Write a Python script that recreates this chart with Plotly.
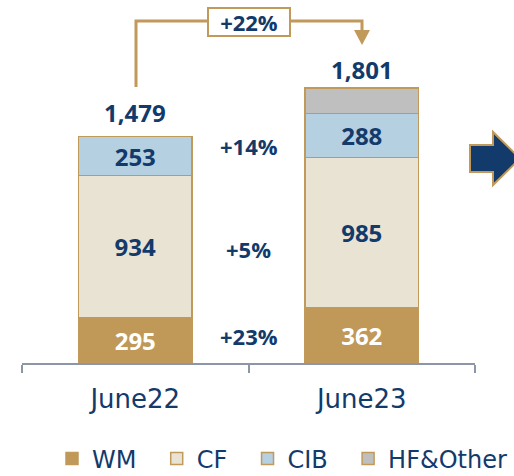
import plotly.graph_objects as go

# ---------------- data ----------------
categories = ["June22", "June23"]
wm = [295, 362]
cf = [934, 985]
cib = [253, 288]
hf_other = [0, 166]
totals = [1479, 1801]
segment_growth = ["+23%", "+5%", "+14%"]   # WM, CF, CIB
total_growth = "+22%"
legend_names = ["WM", "CF", "CIB", "HF&Other"]

# ---------------- style ----------------
W, H = 514, 476
NAVY = "#123a6b"
GOLD = "#c19a5b"
AXIS = "#8c96a8"
FONT = "Open Sans"
LIGHT = "DejaVu Sans"
PAD = "\u00a0\u00a0"


def px(x):
    return x / W


def py(y):
    return 1 - y / H


fig = go.Figure()
series = [
    (wm, "#c09858", "white", True),
    (cf, "#e9e3d3", NAVY, True),
    (cib, "#b4d0e1", NAVY, True),
    (hf_other, "#bfbfbf", NAVY, False),
]
for k, (name, (vals, fill, tcol, show)) in enumerate(zip(legend_names, series)):
    fig.add_trace(go.Bar(
        x=categories, y=vals,
        name=name + (PAD if k < len(legend_names) - 1 else ""),
        marker=dict(color=fill, line=dict(color=GOLD, width=1.5)),
        width=0.5,
        text=[f"{v:,}" if (show and v > 0) else "" for v in vals],
        textposition="inside", insidetextanchor="middle",
        textfont=dict(family=FONT, size=24, color=tcol, weight="bold"),
        constraintext="none",
        hoverinfo="skip",
    ))

annotations = []
# totals above bars
total_shift = [6, 0]
for i, c in enumerate(categories):
    annotations.append(dict(
        x=c, y=totals[i], xref="x", yref="y", yanchor="bottom", yshift=total_shift[i],
        text=f"{totals[i]:,}", showarrow=False,
        font=dict(family=FONT, size=24, color=NAVY, weight="bold")))

# segment growth labels between bars
bases = [[0, 0], wm, [a + b for a, b in zip(wm, cf)]]
segs = [wm, cf, cib]
g_shift = [2, -9, 0]
for k, (lab, seg, base) in enumerate(zip(segment_growth, segs, bases)):
    mids = [b + s / 2 for b, s in zip(base, seg)]
    annotations.append(dict(
        x=0.5, y=sum(mids) / len(mids), xref="x", yref="y", yshift=g_shift[k],
        text=lab, showarrow=False,
        font=dict(family=FONT, size=22, color=NAVY, weight="bold")))

# total growth box
annotations.append(dict(
    x=0.5, y=py(22), xref="x", yref="paper", xanchor="center", yanchor="middle",
    text=total_growth, showarrow=False,
    font=dict(family=FONT, size=22, color=NAVY, weight="bold"),
    bgcolor="white", bordercolor=GOLD, borderwidth=2, borderpad=0,
    width=80, height=26))

shapes = [
    # bracket
    dict(type="path", xref="paper", yref="paper",
         path=f"M{px(136)},{py(87)} L{px(136)},{py(21)} L{px(362)},{py(21)} L{px(362)},{py(31)}",
         line=dict(color=GOLD, width=3), layer="below"),
    dict(type="path", xref="paper", yref="paper",
         path=f"M{px(354)},{py(30)} L{px(370)},{py(30)} L{px(362)},{py(45)} Z",
         fillcolor=GOLD, line=dict(color=GOLD, width=0)),
    # big arrow at right
    dict(type="path", xref="paper", yref="paper",
         path=(f"M{px(470)},{py(145)} L{px(493)},{py(145)} L{px(493)},{py(132)} "
               f"L{px(520)},{py(158.5)} L{px(493)},{py(185)} L{px(493)},{py(172)} "
               f"L{px(470)},{py(172)} Z"),
         fillcolor=NAVY, line=dict(color=GOLD, width=2)),
]

fig.update_layout(
    width=W, height=H,
    margin=dict(l=0, r=0, t=0, b=0, autoexpand=False),
    paper_bgcolor="white", plot_bgcolor="white",
    barmode="stack",
    showlegend=True,
    legend=dict(orientation="h", x=px(52), xanchor="left", y=py(459), yanchor="middle",
                font=dict(family=LIGHT, size=24, color=NAVY, weight="normal"),
                traceorder="normal", itemclick=False, itemdoubleclick=False,
                bgcolor="rgba(0,0,0,0)"),
    xaxis=dict(domain=[px(22), px(475)], type="category", range=[-0.5, 1.5],
               showline=True, linecolor=AXIS, linewidth=2,
               ticks="outside", tickson="boundaries", ticklen=8, tickwidth=2,
               tickcolor=AXIS, ticklabelstandoff=12, automargin=False,
               tickfont=dict(family=LIGHT, size=26, color=NAVY, weight="normal"),
               showgrid=False, zeroline=False, fixedrange=True),
    yaxis=dict(domain=[py(363), 1], range=[0, 363 / (275 / 1801)],
               visible=False, fixedrange=True),
    annotations=annotations,
    shapes=shapes,
    font=dict(family=FONT, color=NAVY),
)

fig.write_html("out.html", config={"displayModeBar": False},
               post_script="document.body.style.margin='0';")
